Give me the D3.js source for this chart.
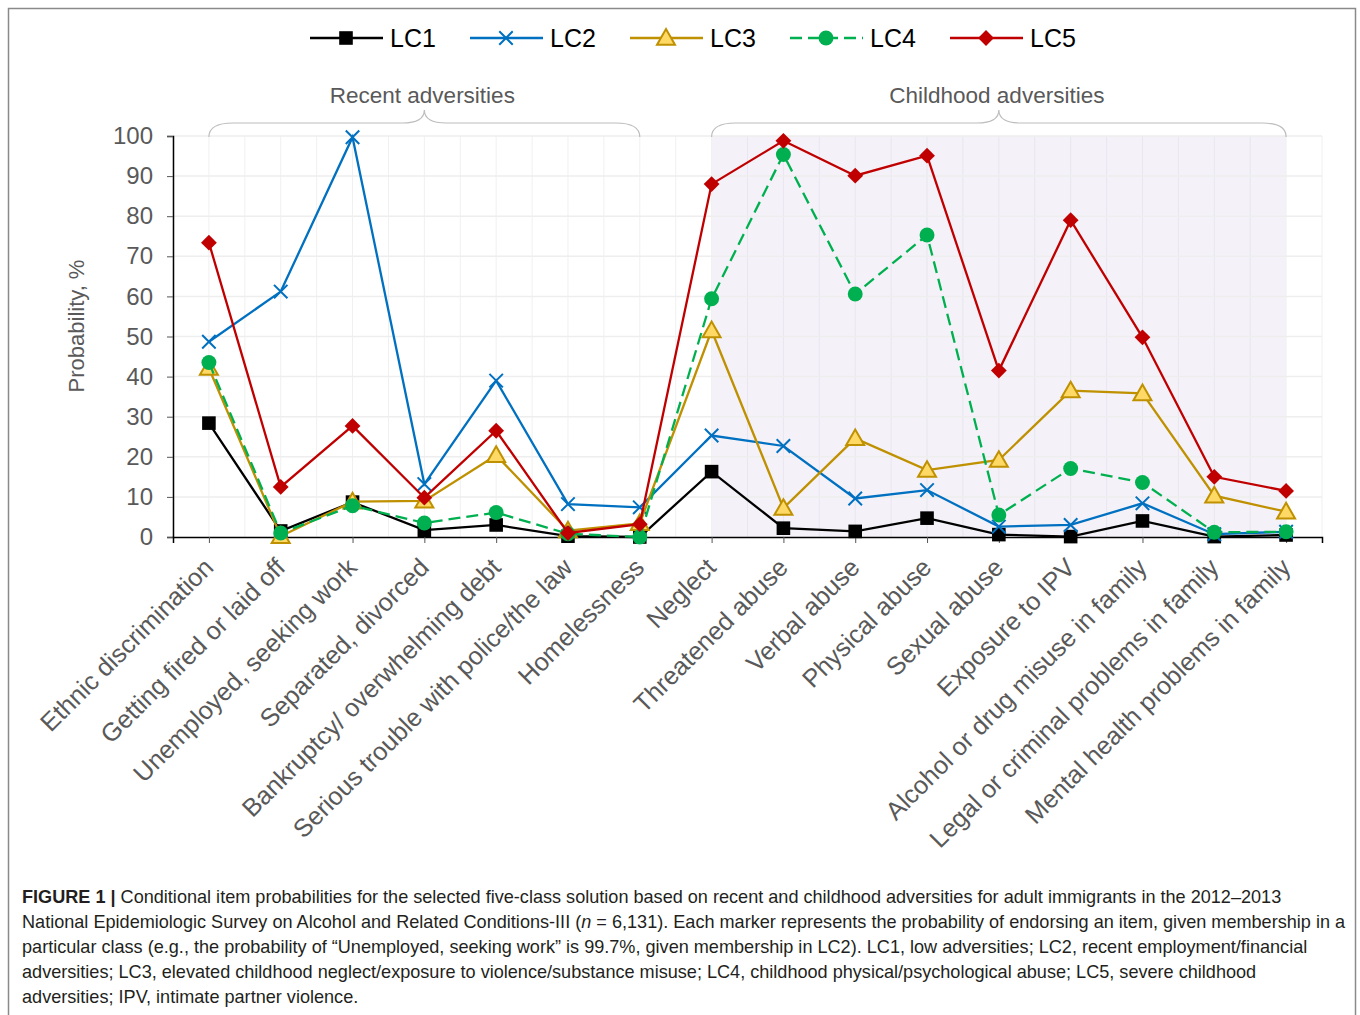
<!DOCTYPE html>
<html>
<head>
<meta charset="utf-8">
<script src="https://cdn.jsdelivr.net/npm/d3@7"></script>
<style>
  body { margin: 0; background: #fff; }
  svg { font-family: "Liberation Sans", Arial, sans-serif; }
</style>
</head>
<body>
<div id="chart"></div>
<script>
// categories (x axis)
const items = [
  "Ethnic discrimination", "Getting fired or laid off", "Unemployed, seeking work",
  "Separated, divorced", "Bankruptcy/ overwhelming debt", "Serious trouble with police/the law",
  "Homelessness", "Neglect", "Threatened abuse", "Verbal abuse", "Physical abuse",
  "Sexual abuse", "Exposure to IPV", "Alcohol or drug misuse in family",
  "Legal or criminal problems in family", "Mental health problems in family"
]
const recentItems = items.slice(0, 7)
const childItems = items.slice(7)

// series values, probability %
const lc1 = [28.4, 1.5, 8.7, 1.7, 3.0, 0.2, 0.0, 16.3, 2.2, 1.4, 4.7, 0.6, 0.1, 4.0, 0.1, 0.5]
const lc2 = [48.7, 61.2, 99.7, 13.2, 39.0, 8.2, 7.4, 25.3, 22.7, 9.6, 11.7, 2.6, 3.0, 8.4, 0.7, 1.3]
const lc3 = [42.1, 0.2, 8.8, 9.0, 20.4, 1.6, 3.4, 51.5, 7.2, 24.6, 16.7, 19.2, 36.5, 35.8, 10.3, 6.3]
const lc4 = [43.5, 1.0, 7.8, 3.5, 6.1, 0.8, 0.0, 59.4, 95.4, 60.6, 75.3, 5.5, 17.1, 13.6, 1.2, 1.3]
const lc5 = [73.4, 12.5, 27.7, 9.8, 26.5, 1.0, 3.2, 88.0, 98.8, 90.1, 95.1, 41.5, 79.0, 49.8, 15.0, 11.5]

const seriesNames = ["LC1", "LC2", "LC3", "LC4", "LC5"]
const yTicks = [0, 10, 20, 30, 40, 50, 60, 70, 80, 90, 100]
const groupLabels = ["Recent adversities", "Childhood adversities"]

const captionLines = [
  ["FIGURE 1 | ", "Conditional item probabilities for the selected five-class solution based on recent and childhood adversities for adult immigrants in the 2012\u20132013"],
  ["", "National Epidemiologic Survey on Alcohol and Related Conditions-III (n = 6,131). Each marker represents the probability of endorsing an item, given membership in a"],
  ["", "particular class (e.g., the probability of \u201cUnemployed, seeking work\u201d is 99.7%, given membership in LC2). LC1, low adversities; LC2, recent employment/financial"],
  ["", "adversities; LC3, elevated childhood neglect/exposure to violence/substance misuse; LC4, childhood physical/psychological abuse; LC5, severe childhood"],
  ["", "adversities; IPV, intimate partner violence."]
]

async function draw() {

//*************************1. Dimensions
    const dimensions = {
        width: 1360,
        height: 1015,
        margin: { top: 136, right: 38, bottom: 478, left: 173 }
    }
    dimensions.boundedWidth = dimensions.width - dimensions.margin.left - dimensions.margin.right
    dimensions.boundedHeight = dimensions.height - dimensions.margin.top - dimensions.margin.bottom

//*************************2. Wrapper and bounds
    const wrapper = d3.select("#chart")
        .append("svg")
        .attr("width", dimensions.width)
        .attr("height", dimensions.height)

    // figure frame
    wrapper.append("rect")
        .attr("x", 8.5).attr("y", 8.5)
        .attr("width", 1347).attr("height", 1040)
        .attr("fill", "none")
        .attr("stroke", "#8a8a8a")
        .attr("stroke-width", 1.5)

    const bounds = wrapper.append("g")
        .attr("transform", `translate(${dimensions.margin.left},${dimensions.margin.top})`)

//*************************3. Accessors / series table
    const series = [
        { name: "LC1", values: lc1, color: "#000000", dash: null },
        { name: "LC2", values: lc2, color: "#0070c0", dash: null },
        { name: "LC3", values: lc3, color: "#bf9000", dash: null },
        { name: "LC4", values: lc4, color: "#00b050", dash: "12,6" },
        { name: "LC5", values: lc5, color: "#c00000", dash: null }
    ]
    const itemAccessor = (d, i) => items[i]

//*************************4. Scales
    const xScale = d3.scalePoint()
        .domain(items)
        .range([0, dimensions.boundedWidth])
        .padding(0.5)
    const step = xScale.step()

    const yScale = d3.scaleLinear()
        .domain([0, 100])
        .range([dimensions.boundedHeight, 0])

//*************************5. Peripherals

//------------------------ shaded childhood area
    const shadeX0 = xScale(childItems[0])
    const shadeX1 = xScale(childItems[childItems.length - 1])
    bounds.append("rect")
        .attr("x", shadeX0)
        .attr("y", 0)
        .attr("width", shadeX1 - shadeX0)
        .attr("height", dimensions.boundedHeight)
        .attr("fill", "#f4f2f8")

//------------------------ grid
    const vGrid = []
    items.forEach(d => { vGrid.push(xScale(d) - step / 2); vGrid.push(xScale(d)) })
    vGrid.push(dimensions.boundedWidth)

    bounds.append("g").selectAll("line")
        .data(vGrid)
        .join("line")
        .attr("x1", d => d).attr("x2", d => d)
        .attr("y1", 0).attr("y2", dimensions.boundedHeight)
        .attr("stroke", d => (d > shadeX0 && d < shadeX1) ? "#e8e6ee" : "#f0f0f0")
        .attr("stroke-width", 1)

    bounds.append("g").selectAll("line")
        .data(yTicks.filter(d => d > 0))
        .join("line")
        .attr("x1", 0).attr("x2", dimensions.boundedWidth)
        .attr("y1", d => yScale(d)).attr("y2", d => yScale(d))
        .attr("stroke", "#eeeeee")
        .attr("stroke-width", 1.5)

//------------------------ axes
    const yAxisGenerator = d3.axisLeft(yScale)
        .tickValues(yTicks)
        .tickSize(6)
        .tickPadding(14)
    const yAxis = bounds.append("g").call(yAxisGenerator)
    yAxis.select(".domain").attr("stroke", "#000").attr("stroke-width", 1.5)
    yAxis.selectAll(".tick line").attr("stroke", "#555")
    yAxis.selectAll(".tick text")
        .attr("font-size", 24)
        .attr("fill", "#595959")
        .attr("font-family", "'Liberation Sans', Arial, sans-serif")

    const xAxisGenerator = d3.axisBottom(xScale)
        .tickSize(6)
        .tickSizeOuter(6)
        .tickFormat("")
    const xAxis = bounds.append("g")
        .attr("transform", `translate(0,${dimensions.boundedHeight})`)
        .call(xAxisGenerator)
    xAxis.select(".domain").attr("stroke", "#000").attr("stroke-width", 1.5)
    xAxis.selectAll(".tick line").attr("stroke", "#555")

    // rotated category labels
    bounds.append("g").selectAll("text")
        .data(items)
        .join("text")
        .attr("transform", d => `translate(${xScale(d) + 6},${dimensions.boundedHeight + 32}) rotate(-45)`)
        .attr("text-anchor", "end")
        .attr("font-size", 25.3)
        .attr("fill", "#595959")
        .text(d => d)

    // y label
    wrapper.append("text")
        .attr("transform", `translate(84,${dimensions.margin.top + 190}) rotate(-90)`)
        .attr("text-anchor", "middle")
        .attr("font-size", 22)
        .attr("fill", "#595959")
        .text("Probability, %")

//------------------------ group braces
    const bracePath = (x0, x1) => {
        const mid = (x0 + x1) / 2
        const yB = 1, yT = -13, yA = -26
        return `M${x0},${yB} Q${x0},${yT} ${x0 + 24},${yT} L${mid - 22},${yT} Q${mid},${yT} ${mid},${yA}`
            + ` Q${mid},${yT} ${mid + 22},${yT} L${x1 - 24},${yT} Q${x1},${yT} ${x1},${yB}`
    }
    const groups = [
        { label: groupLabels[0], x0: xScale(recentItems[0]), x1: xScale(recentItems[recentItems.length - 1]) },
        { label: groupLabels[1], x0: shadeX0, x1: shadeX1 }
    ]
    bounds.append("g").selectAll("path")
        .data(groups)
        .join("path")
        .attr("d", d => bracePath(d.x0, d.x1))
        .attr("fill", "none")
        .attr("stroke", "#bdbdbd")
        .attr("stroke-width", 1.2)
    bounds.append("g").selectAll("text")
        .data(groups)
        .join("text")
        .attr("x", d => (d.x0 + d.x1) / 2 - 2)
        .attr("y", -33)
        .attr("text-anchor", "middle")
        .attr("font-size", 22.5)
        .attr("fill", "#595959")
        .text(d => d.label)

//*************************6. Generators
    const lineGenerator = d3.line()
        .x((d, i) => xScale(itemAccessor(d, i)))
        .y(d => yScale(d))

    const symbolFor = name => {
        if (name === "LC1") return d3.symbol().type(d3.symbolSquare).size(185)()
        if (name === "LC2") return d3.symbol().type(d3.symbolTimes).size(120)()
        if (name === "LC3") return d3.symbol().type(d3.symbolTriangle).size(140)()
        if (name === "LC4") return d3.symbol().type(d3.symbolCircle).size(175)()
        return d3.symbol().type(d3.symbolSquare).size(125)()
    }
    const styleMarker = (sel, s) => {
        sel.attr("d", symbolFor(s.name))
        if (s.name === "LC2") {
            sel.attr("fill", "none").attr("stroke", s.color).attr("stroke-width", 2)
        } else if (s.name === "LC3") {
            sel.attr("fill", "#ffd966").attr("stroke", s.color).attr("stroke-width", 2)
        } else {
            sel.attr("fill", s.color).attr("stroke", "none")
        }
    }
    const markerTransform = (s, x, y) =>
        s.name === "LC5" ? `translate(${x},${y}) rotate(45)`
        : s.name === "LC3" ? `translate(${x},${y + 1.5})`
        : `translate(${x},${y})`

//*************************7. Draw lines and markers
    series.forEach(s => {
        const g = bounds.append("g")
        g.append("path")
            .attr("d", lineGenerator(s.values))
            .attr("fill", "none")
            .attr("stroke", s.color)
            .attr("stroke-width", 2.3)
            .attr("stroke-dasharray", s.dash)
        g.selectAll(".marker")
            .data(s.values)
            .join("path")
            .attr("class", "marker")
            .attr("transform", (d, i) => markerTransform(s, xScale(items[i]), yScale(d)))
            .call(sel => styleMarker(sel, s))
    })

//*************************8. Legend
    const legend = wrapper.append("g")
        .attr("transform", "translate(310,38)")
    series.forEach((s, i) => {
        const item = legend.append("g").attr("transform", `translate(${i * 160},0)`)
        item.append("line")
            .attr("x1", 0).attr("x2", 73)
            .attr("stroke", s.color)
            .attr("stroke-width", 2.3)
            .attr("stroke-dasharray", s.dash)
        item.append("path")
            .attr("transform", markerTransform(s, 36, 0))
            .call(sel => styleMarker(sel, s))
        item.append("text")
            .attr("x", 80)
            .attr("y", 9)
            .attr("font-size", 25)
            .attr("fill", "#000")
            .text(seriesNames[i])
    })

//*************************9. Caption
    const caption = wrapper.append("g")
        .attr("font-size", 18.1)
        .attr("fill", "#231f20")
    captionLines.forEach((line, i) => {
        const t = caption.append("text")
            .attr("x", 22)
            .attr("y", 903 + i * 25)
        if (line[0]) t.append("tspan").attr("font-weight", "bold").text(line[0])
        if (i === 1) {
            const parts = line[1].split("(n = ")
            t.append("tspan").text(parts[0] + "(")
            t.append("tspan").attr("font-style", "italic").text("n")
            t.append("tspan").text(" = " + parts[1])
        } else {
            t.append("tspan").text(line[1])
        }
    })

} draw()
</script>
</body>
</html>
